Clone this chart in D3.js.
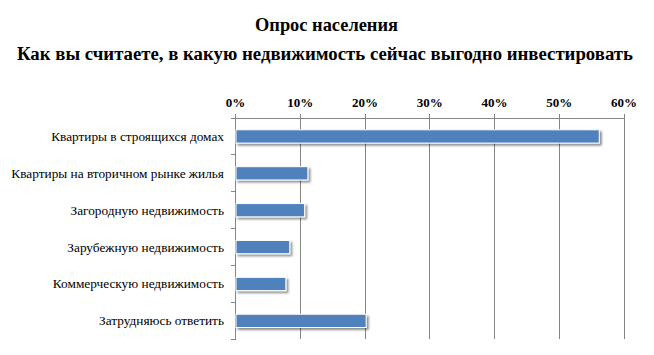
<!DOCTYPE html>
<html>
<head>
<meta charset="utf-8">
<script src="https://cdn.jsdelivr.net/npm/d3@7/dist/d3.min.js"></script>
<style>
html,body{margin:0;padding:0;background:#fff;}
svg{display:block;}
</style>
</head>
<body>
<svg id="chart" width="654" height="355"></svg>
<script>
const title1 = "Опрос населения";
const title2 = "Как вы считаете, в какую недвижимость сейчас выгодно инвестировать";
const categories = [
  "Квартиры в строящихся домах",
  "Квартиры на вторичном рынке жилья",
  "Загородную недвижимость",
  "Зарубежную недвижимость",
  "Коммерческую недвижимость",
  "Затрудняюсь ответить"
];
const values = [0.561, 0.111, 0.106, 0.083, 0.077, 0.201];
const tickValues = [0, 0.1, 0.2, 0.3, 0.4, 0.5, 0.6];
const tickLabels = ["0%", "10%", "20%", "30%", "40%", "50%", "60%"];

const svg = d3.select("#chart");
const font = "Liberation Serif";

const defs = svg.append("defs");
const f = defs.append("filter").attr("id","sh").attr("x","-10%").attr("y","-50%").attr("width","130%").attr("height","250%");
f.append("feDropShadow").attr("dx",2).attr("dy",2).attr("stdDeviation",1.3).attr("flood-color","#000").attr("flood-opacity",0.45);

const x = d3.scaleLinear().domain([0, 0.6]).range([235.5, 624]);
const y = d3.scaleBand().domain(categories).range([118, 339.3]).padding(0);

// titles
svg.append("text").attr("x", 326.5).attr("y", 31).attr("text-anchor","middle")
  .attr("font-family", font).attr("font-weight","bold").attr("font-size", 19)
  .attr("textLength", 143).attr("lengthAdjust","spacingAndGlyphs").text(title1);
svg.append("text").attr("x", 325).attr("y", 60).attr("text-anchor","middle")
  .attr("font-family", font).attr("font-weight","bold").attr("font-size", 18.5)
  .attr("textLength", 616).attr("lengthAdjust","spacingAndGlyphs").text(title2);

const gridColor = "#868686";
// vertical gridlines
svg.append("g").selectAll("line").data(tickValues).join("line")
  .attr("x1", d => x(d)).attr("x2", d => x(d))
  .attr("y1", 114).attr("y2", 339.3)
  .attr("stroke", gridColor).attr("stroke-width", 1)
  .attr("shape-rendering","crispEdges");
// top axis line
svg.append("line").attr("x1", x(0)).attr("x2", x(0.6)).attr("y1", 118).attr("y2", 118)
  .attr("stroke", gridColor).attr("shape-rendering","crispEdges");
// left category ticks
const bounds = categories.map(c => y(c)).concat([y.range()[1]]);
svg.append("g").selectAll("line").data(bounds).join("line")
  .attr("x1", x(0) - 4.5).attr("x2", x(0)).attr("y1", d => d).attr("y2", d => d)
  .attr("stroke", gridColor).attr("shape-rendering","crispEdges");

// tick labels
svg.append("g").selectAll("text").data(tickValues).join("text")
  .attr("x", d => x(d)).attr("y", 107).attr("text-anchor","middle")
  .attr("font-family", font).attr("font-weight","bold").attr("font-size", 13)
  .text((d,i) => tickLabels[i]);

// bars
const barH = y.bandwidth() * 0.36;
svg.append("g").selectAll("rect").data(values).join("rect")
  .attr("x", x(0) + 0.5)
  .attr("y", (d,i) => y(categories[i]) + (y.bandwidth() - barH) / 2)
  .attr("width", d => x(d) - x(0))
  .attr("height", barH)
  .attr("fill", "#4F81BD").attr("stroke", "#fff").attr("stroke-width", 1)
  .attr("filter", "url(#sh)");

// category labels
svg.append("g").selectAll("text").data(categories).join("text")
  .attr("x", 224).attr("y", d => y(d) + y.bandwidth()/2 + 4.5)
  .attr("text-anchor","end")
  .attr("font-family", font).attr("font-size", 13.3)
  .text(d => d);
</script>
</body>
</html>
